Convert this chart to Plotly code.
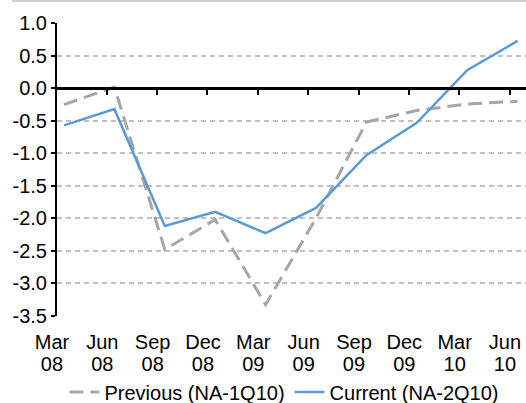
import plotly.graph_objects as go

# ---- data ----
months = ["Mar", "Jun", "Sep", "Dec", "Mar", "Jun", "Sep", "Dec", "Mar", "Jun"]
years = ["08", "08", "08", "08", "09", "09", "09", "09", "10", "10"]
previous = [-0.25, 0.02, -2.48, -2.02, -3.33, -2.00, -0.52, -0.34, -0.24, -0.20]
current = [-0.57, -0.32, -2.12, -1.90, -2.23, -1.84, -1.03, -0.53, 0.28, 0.73]
y_tick_values = [1.0, 0.5, 0.0, -0.5, -1.0, -1.5, -2.0, -2.5, -3.0, -3.5]
y_tick_labels = ["1.0", "0.5", "0.0", "-0.5", "-1.0", "-1.5", "-2.0", "-2.5", "-3.0", "-3.5"]
series_names = ["Previous (NA-1Q10)", "Current (NA-2Q10)"]

W, H = 526, 403
idx = list(range(len(months)))
x_range = [-0.139, 9.167]          # data axis range
label_range = [-1.033, 9.418]      # label axes span the full width
tick_pos = [i - 0.155 for i in idx]
FONT = "Liberation Sans, Arial, sans-serif"

plot_left, plot_top, plot_bottom = 57, 23.4, 315.7
y_dom = [(H - plot_bottom) / H, (H - plot_top) / H]
zero_pos = (H - (plot_top + (plot_bottom - plot_top) / 4.5)) / H
month_pos = (H - plot_bottom - 12) / H
year_pos = (H - plot_bottom - 34) / H

fig = go.Figure()
fig.add_trace(go.Scatter(x=idx, y=previous, mode="lines", name=series_names[0],
                         line=dict(color="#A6A6A6", width=3, dash="14px,7px")))
fig.add_trace(go.Scatter(x=idx, y=current, mode="lines", name=series_names[1],
                         line=dict(color="#5B9BD5", width=2.5)))
# helper traces so the label axes are drawn
for ax in ("x2", "x3"):
    fig.add_trace(go.Scatter(x=[1], y=[None], xaxis=ax, yaxis="y2", mode="lines",
                             showlegend=False, hoverinfo="skip"))

label_axis = dict(range=label_range, anchor="free", side="bottom", tickmode="array",
                  tickvals=idx, showline=False, ticks="", showgrid=False,
                  zeroline=False, tickfont=dict(size=20), domain=[0, 1])

fig.update_layout(
    width=W, height=H,
    margin=dict(l=0, r=0, t=0, b=0, autoexpand=False),
    paper_bgcolor="white", plot_bgcolor="rgba(0,0,0,0)",
    font=dict(family=FONT, size=20, color="black"),
    showlegend=True,
    legend=dict(orientation="h", x=284 / W, xanchor="center", y=11 / H, yanchor="middle",
                font=dict(size=20), bgcolor="rgba(0,0,0,0)", itemwidth=30,
                tracegroupgap=0),
    # data axis: line and tick marks sit on the zero line
    xaxis=dict(range=x_range, domain=[plot_left / W, 1], anchor="free",
               position=zero_pos, side="bottom",
               tickmode="array", tickvals=tick_pos, showticklabels=False,
               ticks="outside", ticklen=5, tickwidth=2, tickcolor="black",
               showline=True, linecolor="black", linewidth=2.5,
               showgrid=False, zeroline=False),
    xaxis2=dict(label_axis, position=month_pos, ticktext=months),
    xaxis3=dict(label_axis, position=year_pos, ticktext=years),
    yaxis=dict(range=[-3.5, 1.0], domain=y_dom, anchor="x", tickmode="array",
               tickvals=y_tick_values,
               ticktext=y_tick_labels, showline=True, linecolor="black", linewidth=2,
               ticks="outside", ticklen=4, tickwidth=2, tickcolor="black",
               showgrid=True, gridcolor="#C0C0C0", gridwidth=1.5, griddash="5px,4px",
               zeroline=False, tickfont=dict(size=20), ticklabelstandoff=0),
    yaxis2=dict(range=[0, 1], domain=y_dom, anchor="x2", visible=False),
    shapes=[dict(type="line", xref="paper", yref="paper", x0=12 / W, x1=1,
                 y0=(H - 1) / H, y1=(H - 1) / H, line=dict(color="#BFBFBF", width=1.5))],
)

fig.write_html("out.html", config={"displayModeBar": False},
               post_script="document.body.style.margin='0';")
